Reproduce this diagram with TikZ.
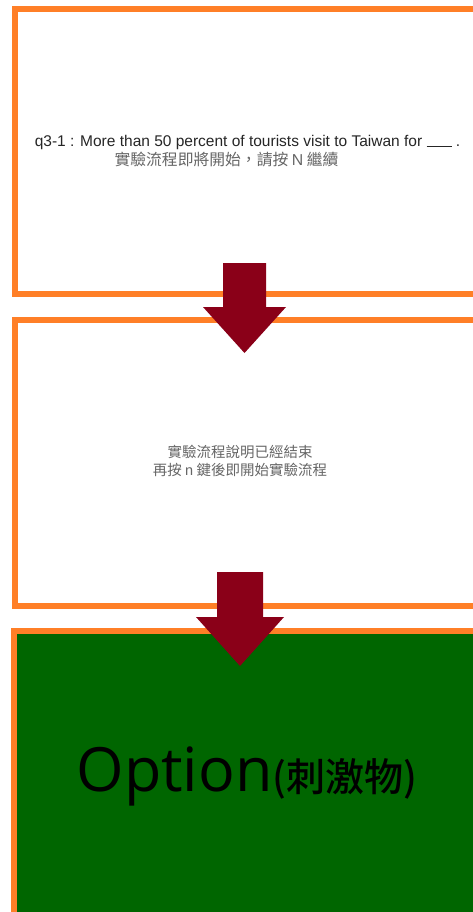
\documentclass[tikz,border=0pt]{standalone}
\usepackage{fontspec}
\setmainfont{Liberation Sans}
\newfontfamily\cjk{Noto Sans CJK TC}
\newfontfamily\cjkmed{Noto Sans CJK TC Medium}
\newfontfamily\optfont{Open Sans}
\definecolor{boxorange}{HTML}{FF7F27}
\definecolor{arrowred}{HTML}{8A0018}
\definecolor{optgreen}{HTML}{006600}
\tikzset{
  screenbox/.style={draw=boxorange, line width=6pt, inner sep=0pt},
  blockarrow/.style={fill=arrowred, draw=none},
  engtext/.style={text=black!85, inner sep=0pt, font=\fontsize{15.5}{17}\selectfont},
  cjktext/.style={text=black!60, inner sep=0pt, font=\cjk\fontsize{15.8}{18}\selectfont, align=center}
}
\begin{document}
\begin{tikzpicture}[x=1pt,y=-1pt]
\useasboundingbox (0,0) rectangle (473,912);
\clip (0,0) rectangle (473,912);
\fill[white] (0,0) rectangle (473,912);
% boxes
\node[screenbox, fill=white, minimum width=461pt, minimum height=284.5pt] (box1) at (245.5,151.25) {};
\node[screenbox, fill=white, minimum width=461.5pt, minimum height=285.5pt] (box2) at (245.25,462.75) {};
\node[screenbox, fill=optgreen, minimum width=462.5pt, minimum height=284.5pt] (box3) at (244.75,772.75) {};
% texts
\node[engtext] (q1) at (247.5,142.5) {q3-1 : More than 50 percent of tourists visit to Taiwan for \rule[-0.5pt]{25pt}{0.8pt} .};
\node[cjktext] (q2) at (226.5,160) {實驗流程即將開始，請按 {\rmfamily N} 繼續};
\node[cjktext, font=\cjk\fontsize{14.5}{18}\selectfont] (s1) at (240,461) {實驗流程說明已經結束\\再按 {\rmfamily n} 鍵後即開始實驗流程};
\node[inner sep=0pt, text=black, anchor=base] (opt) at (247,791) {\optfont\fontsize{61}{63}\selectfont Option\cjkmed\fontsize{39}{42}\selectfont(刺激物)};
% arrows
\coordinate (a1tip) at (244.5,353);
\fill[blockarrow] (223,263) -- (266,263) -- (266,307) -- (286,307) -- (a1tip) -- (203,307) -- (223,307) -- cycle;
\coordinate (a2tip) at (240,666);
\fill[blockarrow] (217,572) -- (263,572) -- (263,617) -- (284,617) -- (a2tip) -- (196,617) -- (217,617) -- cycle;
\end{tikzpicture}
\end{document}
